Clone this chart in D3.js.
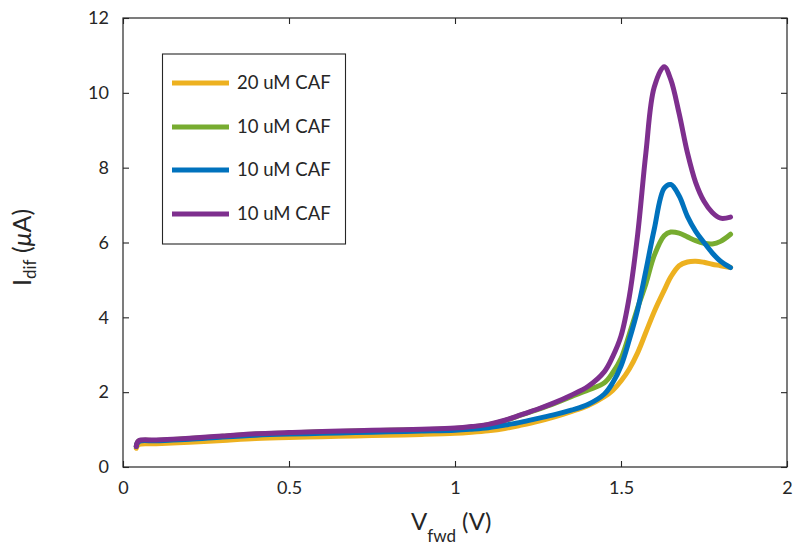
<!DOCTYPE html>
<html><head><meta charset="utf-8">
<script src="https://cdn.jsdelivr.net/npm/d3@7"></script>
<style>body{margin:0;background:#fff}svg{display:block}text{font-family:Lato,"Open Sans",sans-serif;fill:#262626}</style>
</head><body><svg id="c" width="793" height="546"></svg>
<script>
const voltage = [0.04,0.047,0.1,0.2,0.3,0.4,0.5,0.6,0.7,0.8,0.9,1.0,1.05,1.1,1.15,1.2,1.25,1.3,1.35,1.4,1.45,1.475,1.5,1.525,1.55,1.575,1.6,1.63,1.65,1.675,1.7,1.725,1.75,1.775,1.8,1.83];
const yellow20 = [0.5,0.6,0.62,0.66,0.71,0.76,0.79,0.81,0.83,0.85,0.87,0.9,0.93,0.97,1.03,1.12,1.22,1.34,1.48,1.64,1.88,2.05,2.3,2.62,3.05,3.6,4.15,4.72,5.08,5.38,5.48,5.5,5.47,5.42,5.38,5.33];
const green10 = [0.55,0.69,0.71,0.76,0.82,0.88,0.91,0.94,0.96,0.98,1.0,1.03,1.07,1.13,1.24,1.39,1.54,1.7,1.88,2.05,2.25,2.52,2.9,3.55,4.25,4.9,5.65,6.18,6.28,6.25,6.15,6.05,5.98,5.96,6.03,6.22];
const blue10 = [0.55,0.68,0.7,0.74,0.8,0.85,0.88,0.9,0.92,0.94,0.96,0.98,1.01,1.05,1.12,1.2,1.3,1.4,1.52,1.67,1.95,2.25,2.7,3.4,4.2,5.25,6.35,7.45,7.55,7.25,6.7,6.3,6.0,5.72,5.5,5.33];
const purple10 = [0.55,0.7,0.72,0.77,0.83,0.89,0.92,0.95,0.97,0.99,1.01,1.04,1.08,1.14,1.25,1.4,1.55,1.72,1.92,2.15,2.55,2.95,3.5,4.55,6.2,8.4,10.15,10.7,10.35,9.45,8.4,7.6,7.1,6.8,6.65,6.68];
const seriesNames = ["20 uM CAF","10 uM CAF","10 uM CAF","10 uM CAF"];
const seriesColors = ["#EDB120","#77AC30","#0072BD","#7E2F8E"];
const xTicks = [0,0.5,1,1.5,2];
const xTickLabels = ["0","0.5","1","1.5","2"];
const yTicks = [0,2,4,6,8,10,12];
const yTickLabels = ["0","2","4","6","8","10","12"];

const seriesValues = [yellow20, green10, blue10, purple10];
const svg = d3.select("#c");
const L=123,R=787,T=18,B=467;
const x = d3.scaleLinear().domain([0,2]).range([L,R]);
const y = d3.scaleLinear().domain([0,12]).range([B,T]);
const axisColor="#262626";

svg.append("rect").attr("x",L).attr("y",T).attr("width",R-L).attr("height",B-T)
  .attr("fill","none").attr("stroke",axisColor).attr("stroke-width",1.2);

const tl=6;
const gB = svg.append("g").attr("transform",`translate(0,${B})`)
  .call(d3.axisBottom(x).tickValues(xTicks).tickFormat((d,i)=>xTickLabels[i]).tickSizeInner(-tl).tickSizeOuter(0).tickPadding(14));
const gT = svg.append("g").attr("transform",`translate(0,${T})`)
  .call(d3.axisTop(x).tickValues(xTicks).tickFormat("").tickSizeInner(-tl).tickSizeOuter(0));
const gL = svg.append("g").attr("transform",`translate(${L},0)`)
  .call(d3.axisLeft(y).tickValues(yTicks).tickFormat((d,i)=>yTickLabels[i]).tickSizeInner(-tl).tickSizeOuter(0).tickPadding(14));
const gR = svg.append("g").attr("transform",`translate(${R},0)`)
  .call(d3.axisRight(y).tickValues(yTicks).tickFormat("").tickSizeInner(-tl).tickSizeOuter(0));
[gB,gT,gL,gR].forEach(g=>{
  g.select(".domain").remove();
  g.selectAll(".tick line").attr("stroke",axisColor).attr("stroke-width",1.1);
  g.selectAll(".tick text").attr("fill",axisColor).style("font-size","18px").style("font-family","Lato, 'Open Sans', sans-serif");
});

const line = d3.line().x((d,i)=>x(voltage[i])).y(d=>y(d)).curve(d3.curveCatmullRom.alpha(0.5));
seriesValues.forEach((vals,k)=>{
  svg.append("path").datum(vals).attr("d",line).attr("fill","none")
    .attr("stroke",seriesColors[k]).attr("stroke-width",5).attr("stroke-linejoin","round").attr("stroke-linecap","round");
});

const lg = svg.append("g");
lg.append("rect").attr("x",162.5).attr("y",54).attr("width",183).attr("height",190)
  .attr("fill","#fff").attr("stroke",axisColor).attr("stroke-width",1.1);
const ly=[83,127,170,214];
seriesNames.forEach((n,k)=>{
  lg.append("line").attr("x1",172).attr("x2",229).attr("y1",ly[k]).attr("y2",ly[k])
    .attr("stroke",seriesColors[k]).attr("stroke-width",5);
  lg.append("text").attr("x",237).attr("y",ly[k]+6).style("font-size","18.5px").text(n);
});

const xl = svg.append("text").attr("x",411).attr("y",530).style("font-size","24px");
xl.append("tspan").text("V");
xl.append("tspan").attr("dy",12).style("font-size","17px").text("fwd");
xl.append("tspan").attr("dy",-12).text(" (V)");

const yl = svg.append("text").attr("transform","translate(31,286) rotate(-90)").style("font-size","25px");
yl.append("tspan").text("I");
yl.append("tspan").attr("dy",5).style("font-size","17px").text("dif");
yl.append("tspan").attr("dy",-5).text(" (");
yl.append("tspan").style("font-style","italic").text("μ");
yl.append("tspan").text("A)");
</script></body></html>
